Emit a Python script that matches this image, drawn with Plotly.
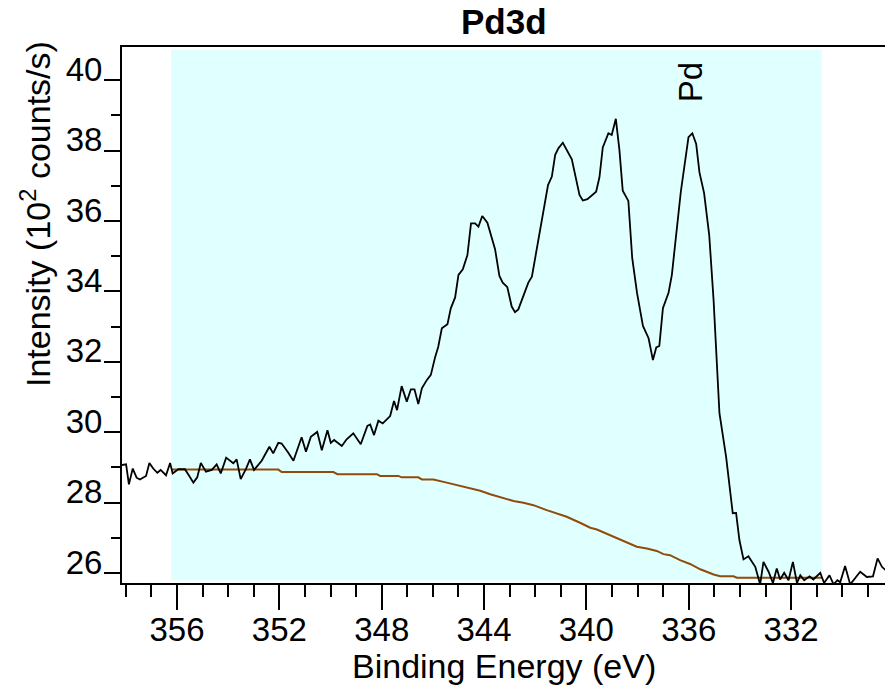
import plotly.graph_objects as go

# Spectrum (binding energy in eV, intensity in 10^2 counts/s)
energy = [358.16, 357.99, 357.88, 357.73, 357.58, 357.45, 357.21, 357.08, 356.93, 356.77,
          356.64, 356.43, 356.27, 356.17, 355.95, 355.69, 355.52, 355.36, 355.21, 355.07,
          354.87, 354.64, 354.45, 354.29, 354.08, 353.90, 353.80, 353.67, 353.51, 353.30,
          353.15, 352.99, 352.69, 352.39, 352.24, 352.04, 351.91, 351.65, 351.45, 351.13,
          350.96, 350.77, 350.52, 350.34, 350.12, 349.99, 349.86, 349.56, 349.37, 349.11,
          348.82, 348.56, 348.45, 348.30, 348.13, 347.96, 347.67, 347.52, 347.40, 347.22,
          347.02, 346.86, 346.72, 346.57, 346.43, 346.24, 346.08, 345.91, 345.79, 345.65,
          345.43, 345.30, 345.13, 345.00, 344.83, 344.65, 344.51, 344.35, 344.22, 344.07,
          343.87, 343.57, 343.40, 343.27, 343.09, 342.92, 342.79, 342.66, 342.46, 342.27,
          342.13, 341.94, 341.68, 341.50, 341.35, 341.22, 341.09, 340.92, 340.57, 340.40,
          340.27, 340.14, 339.96, 339.62, 339.49, 339.36, 339.14, 339.01, 338.85, 338.71,
          338.58, 338.36, 338.21, 338.02, 337.79, 337.57, 337.40, 337.27, 337.15, 337.01,
          336.79, 336.66, 336.49, 336.31, 336.01, 335.86, 335.71, 335.58, 335.40, 335.20,
          335.03, 334.80, 334.54, 334.28, 334.15, 334.02, 333.86, 333.67, 333.40, 333.21,
          333.08, 332.88, 332.71, 332.56, 332.43, 332.27, 332.10, 331.93, 331.77, 331.64,
          331.49, 331.28, 331.13, 330.86, 330.71, 330.50, 330.34, 330.19, 330.08, 329.89,
          329.69, 329.49, 329.30, 329.04, 328.80, 328.62, 328.45, 328.32]
intensity = [29.07, 29.09, 28.52, 28.97, 28.71, 28.66, 28.76, 29.13, 28.97, 28.85,
             28.93, 28.78, 29.13, 28.83, 28.95, 28.95, 28.76, 28.57, 28.72, 29.13,
             28.88, 28.93, 29.09, 28.83, 29.28, 29.16, 29.12, 29.23, 28.67, 28.97,
             29.23, 28.93, 29.19, 29.59, 29.40, 29.70, 29.68, 29.42, 29.19, 29.86,
             29.45, 29.87, 30.01, 29.49, 30.06, 29.70, 29.78, 29.61, 29.80, 29.97,
             29.66, 30.18, 30.22, 29.92, 30.33, 30.25, 30.46, 30.89, 30.63, 31.31,
             30.87, 31.22, 31.22, 30.80, 31.25, 31.48, 31.63, 32.14, 32.43, 32.95,
             33.07, 33.52, 33.83, 34.47, 34.63, 35.03, 35.93, 35.93, 35.84, 36.14,
             35.95, 35.20, 34.44, 34.25, 34.12, 33.57, 33.41, 33.49, 33.90, 34.25,
             34.42, 35.18, 36.22, 37.02, 37.26, 37.88, 38.07, 38.22, 37.75, 37.12,
             36.74, 36.58, 36.62, 36.83, 37.24, 38.09, 38.49, 38.44, 38.90, 38.02,
             36.86, 36.57, 34.95, 33.95, 33.02, 32.67, 32.05, 32.41, 32.45, 33.52,
             33.96, 34.47, 35.65, 36.83, 38.38, 38.49, 38.19, 37.37, 36.79, 35.60,
             33.76, 30.54, 29.30, 27.70, 27.71, 26.94, 26.39, 26.48, 26.18, 25.68,
             26.32, 26.04, 25.72, 26.13, 25.82, 26.01, 25.80, 26.32, 25.72, 25.94,
             25.80, 25.91, 25.82, 26.01, 25.72, 25.94, 25.68, 25.80, 25.74, 26.20,
             25.68, 25.88, 26.04, 25.89, 25.91, 26.42, 26.18, 26.09]

# Background (Shirley-type) curve
bg_energy = [356.23, 352.04, 351.91, 349.89, 349.73, 348.19, 348.06, 347.35, 347.22, 346.57,
             346.43, 345.98, 345.46, 344.94, 344.55, 344.15, 343.76, 343.37, 342.85, 342.46,
             342.07, 341.55, 341.16, 340.77, 340.25, 339.85, 339.59, 339.07, 338.55, 338.03,
             337.64, 337.25, 336.99, 336.73, 336.34, 335.95, 335.55, 335.03, 334.77, 334.25,
             334.12, 330.80]
bg_intensity = [28.94, 28.94, 28.87, 28.87, 28.81, 28.81, 28.76, 28.76, 28.72, 28.72,
                28.66, 28.66, 28.57, 28.48, 28.41, 28.34, 28.24, 28.15, 28.05, 28.00,
                27.93, 27.79, 27.70, 27.60, 27.43, 27.29, 27.24, 27.08, 26.91, 26.75,
                26.70, 26.63, 26.54, 26.51, 26.37, 26.26, 26.11, 25.96, 25.91, 25.91,
                25.87, 25.87]

region = [356.23, 330.80]          # fitting region (cyan band)
region_y = [25.80, 40.86]
x_range = [358.15, 328.33]
y_range = [25.72, 40.94]
x_major = [356, 352, 348, 344, 340, 336, 332]
y_major = [26, 28, 30, 32, 34, 36, 38, 40]

FONT = "Liberation Sans, Arial, sans-serif"

fig = go.Figure()
fig.add_shape(type="rect", xref="x", yref="y",
              x0=region[0], x1=region[1], y0=region_y[0], y1=region_y[1],
              fillcolor="#e0ffff", line=dict(width=0), layer="below")
fig.add_trace(go.Scatter(x=bg_energy, y=bg_intensity, mode="lines",
                         line=dict(color="rgb(145,75,10)", width=2), hoverinfo="skip"))
fig.add_trace(go.Scatter(x=energy, y=intensity, mode="lines",
                         line=dict(color="black", width=1.8), hoverinfo="skip"))

fig.update_layout(
    width=885, height=688,
    margin=dict(l=122, r=0, t=47, b=105),
    paper_bgcolor="white", plot_bgcolor="white",
    showlegend=False,
    font=dict(family=FONT, size=33, color="black"),
)
fig.update_xaxes(
    range=x_range, tickmode="array", tickvals=x_major, ticktext=[str(v) for v in x_major],
    showline=True, linecolor="black", linewidth=2, mirror=True,
    ticks="outside", ticklen=25, tickwidth=2, tickcolor="black",
    minor=dict(dtick=1, tick0=356, ticks="outside", ticklen=12, tickwidth=2, tickcolor="black"),
    showgrid=False, zeroline=False, tickfont=dict(size=33), ticklabelstandoff=-9,
)
fig.update_yaxes(
    range=y_range, tickmode="array", tickvals=y_major, ticktext=[str(v) for v in y_major],
    showline=True, linecolor="black", linewidth=2, mirror=False,
    ticks="outside", ticklen=16, tickwidth=2, tickcolor="black",
    minor=dict(dtick=1, tick0=26, ticks="outside", ticklen=9, tickwidth=2, tickcolor="black"),
    showgrid=False, zeroline=False, tickfont=dict(size=33), ticklabelshift=-11,
    ticklabelstandoff=-5,
)

fig.add_annotation(text="<b>Pd3d</b>", xref="paper", yref="paper", x=0.5, y=(583 - 21) / 536,
                   xanchor="center", yanchor="middle", showarrow=False, font=dict(size=35))
fig.add_annotation(text="Binding Energy (eV)", xref="paper", yref="paper", x=0.5, y=(583 - 666) / 536,
                   xanchor="center", yanchor="middle", showarrow=False, font=dict(size=34))
fig.add_annotation(text="Intensity (10<sup>2</sup> counts/s)", xref="paper", yref="paper",
                   x=(35 - 122) / 763, y=(583 - 214) / 536, textangle=-90,
                   xanchor="center", yanchor="middle", showarrow=False, font=dict(size=34))
fig.add_annotation(text="Pd", xref="x", yref="y", x=335.9, y=39.95, textangle=-90,
                   xanchor="center", yanchor="middle", showarrow=False, font=dict(size=33))

fig.write_html("out.html")
